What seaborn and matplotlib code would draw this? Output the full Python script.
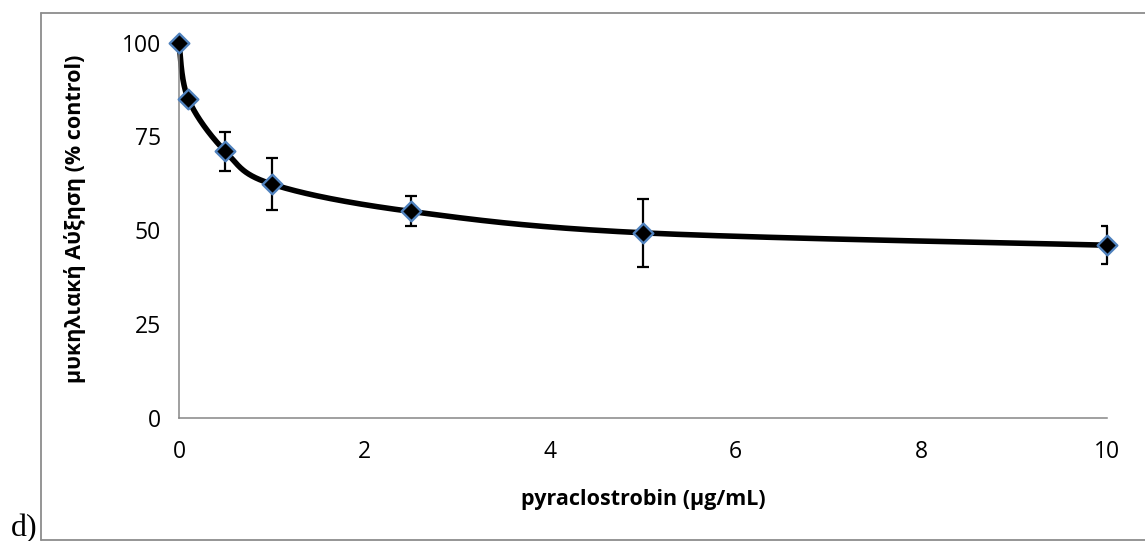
import numpy as np
import pandas as pd
import matplotlib
matplotlib.use("Agg")
import matplotlib.pyplot as plt
import seaborn as sns
from matplotlib.lines import Line2D

# ---- data ----
conc = [0, 0.1, 0.5, 1, 2.5, 5, 10]
growth = [100, 85, 71, 62.3, 55, 49.3, 46]
err = [0, 0, 5.2, 7, 4, 9, 5]
xticks = [0, 2, 4, 6, 8, 10]
yticks = [0, 25, 50, 75, 100]
xlabel = "pyraclostrobin (μg/mL)"
ylabel = "μυκηλιακή Αύξηση (% control)"
panel = "d)"

sns.set_theme(style="white")
plt.rcParams['font.family'] = ['Open Sans', 'DejaVu Sans']

W, H = 1145, 541
fig = plt.figure(figsize=(W / 100, H / 100), dpi=100)
ax_l, ax_r, ax_t, ax_b = 179, 1107, 42.7, 417.7
ax = fig.add_axes([ax_l / W, 1 - ax_b / H, (ax_r - ax_l) / W, (ax_b - ax_t) / H])


def smooth(x, y, sx, sy, n=80):
    """Excel-like smoothed line (cubic Bezier / Catmull-Rom) in display-scaled space."""
    P = np.column_stack([np.asarray(x, float) * sx, np.asarray(y, float) * sy])
    P = np.vstack([P[0], P, P[-1]])
    out = []
    t = np.linspace(0, 1, n)[:, None]
    for i in range(1, len(P) - 2):
        p0, p1, p2, p3 = P[i - 1], P[i], P[i + 1], P[i + 2]
        c1 = p1 + (p2 - p0) / 6
        c2 = p2 - (p3 - p1) / 6
        seg = (1 - t) ** 3 * p1 + 3 * (1 - t) ** 2 * t * c1 + 3 * (1 - t) * t ** 2 * c2 + t ** 3 * p2
        out.append(seg)
    out = np.vstack(out)
    return out[:, 0] / sx, out[:, 1] / sy


sx_scale = (ax_r - ax_l) / 10.0
sy_scale = (ax_b - ax_t) / 100.0
cx, cy = smooth(conc, growth, sx_scale, sy_scale)
curve = pd.DataFrame({"x": cx, "y": cy})

sns.lineplot(data=curve, x="x", y="y", sort=False, estimator=None,
             color="black", linewidth=4.0, ax=ax, zorder=2)
for ln in ax.lines:
    ln.set_clip_on(False)
    ln.set_solid_capstyle("butt")

ax.errorbar(conc, growth, yerr=err, fmt="none", ecolor="black",
            elinewidth=1.6, capsize=4.4, capthick=1.6, zorder=3)

pts = pd.DataFrame({"conc": conc, "growth": growth})
sns.scatterplot(data=pts, x="conc", y="growth", marker="D", s=100,
                color="black", edgecolor="#4F81BD", linewidth=1.7,
                ax=ax, zorder=4)
for c in ax.collections:
    c.set_clip_on(False)

ax.set_xlim(0, 10)
ax.set_ylim(0, 100)
ax.set_xticks(xticks)
ax.set_yticks(yticks)
ax.set_xticklabels([str(v) for v in xticks])
ax.set_yticklabels([str(v) for v in yticks])

for s in ["top", "right"]:
    ax.spines[s].set_visible(False)
for s in ["left", "bottom"]:
    ax.spines[s].set_color("#868686")
    ax.spines[s].set_linewidth(1.1)
ax.tick_params(axis="both", direction="out", length=6, width=1.1,
               color="#868686", labelsize=16.5, labelcolor="black")
ax.tick_params(axis="x", pad=10)
ax.tick_params(axis="y", pad=7)

ax.set_xlabel(xlabel, fontsize=15.5, fontweight="bold", color="black")
ax.set_ylabel(ylabel, fontsize=15.5, fontweight="bold", color="black")
ax.xaxis.set_label_coords(0.5, -(499 - ax_b) / (ax_b - ax_t), transform=ax.transAxes)
ax.yaxis.set_label_coords(-(ax_l - 75) / (ax_r - ax_l), (ax_b - 219) / (ax_b - ax_t),
                          transform=ax.transAxes)
ax.xaxis.label.set_va("center")
ax.yaxis.label.set_va("center")

# outer frame (chart area border)
fc = "#8c8c8c"
bl, bt, bb = 40.5, 13, 539.5
fig.add_artist(Line2D([bl / W, bl / W], [1 - bt / H, 1 - bb / H], transform=fig.transFigure, color=fc, lw=1.3))
fig.add_artist(Line2D([bl / W, 1], [1 - bt / H, 1 - bt / H], transform=fig.transFigure, color=fc, lw=1.3))
fig.add_artist(Line2D([bl / W, 1], [1 - bb / H, 1 - bb / H], transform=fig.transFigure, color=fc, lw=1.3))

fig.text(11 / W, 1 - 536 / H, panel, fontsize=23, family="Liberation Serif",
         ha="left", va="baseline", color="black")

fig.savefig("out.png", dpi=100)
